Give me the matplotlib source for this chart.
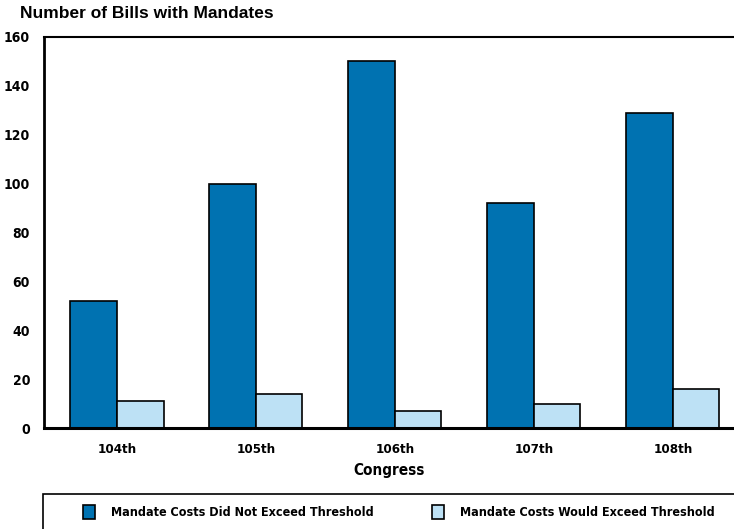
import matplotlib.pyplot as plt
import numpy as np
from matplotlib.patches import Rectangle

congresses = ['104th', '105th', '106th', '107th', '108th']
not_exceed = [52, 100, 150, 92, 129]
would_exceed = [11, 14, 7, 10, 16]

dark = '#0072b1'
light = '#bde1f5'
lab_font = dict(family='DejaVu Sans', stretch='condensed', weight='bold')

fig = plt.figure(figsize=(7.34, 5.29), dpi=100)
ax = fig.add_axes([44 / 734, 1 - 428 / 529, 1 - 44 / 734, (428 - 37) / 529])

x = np.arange(len(congresses))
w = 0.335
ax.bar(x - w / 2, not_exceed, w, color=dark, edgecolor='black', linewidth=1.2,
       label='Mandate Costs Did Not Exceed Threshold')
ax.bar(x + w / 2, would_exceed, w, color=light, edgecolor='black', linewidth=1.2,
       label='Mandate Costs Would Exceed Threshold')

ax.set_xlim(-0.525, 4.44)
ax.set_ylim(0, 160)
ax.set_yticks(range(0, 161, 20))
ax.set_xticks(x)
ax.set_xticklabels(congresses, fontsize=9.5, **lab_font)
for t in ax.get_yticklabels():
    t.set_fontsize(10)
    t.set(**lab_font)
ax.tick_params(length=0)
ax.tick_params(axis='x', pad=11)
ax.tick_params(axis='y', pad=10)
ax.set_xlabel('Congress', fontsize=11, labelpad=5, **lab_font)

ax.spines['right'].set_visible(False)
ax.spines['left'].set_linewidth(2)
ax.spines['bottom'].set_linewidth(2.2)
ax.spines['top'].set_linewidth(1.5)

fig.text(20 / 734, 1 - 14 / 529, 'Number of Bills with Mandates', fontsize=12.5,
         fontweight='bold', family='Liberation Sans', va='center')

# legend box running off the right edge
fig.patches.append(Rectangle((43 / 734, -0.05), 1.0, 1 - 494 / 529 + 0.05,
                             transform=fig.transFigure, fill=False,
                             edgecolor='black', linewidth=1.2))
leg = fig.legend(loc='center left', bbox_to_anchor=(72 / 734, 1 - 512 / 529),
                 ncol=2, frameon=False, handlelength=0.95, handleheight=1.3,
                 columnspacing=4.6, handletextpad=1.3,
                 prop=dict(size=9, **lab_font))

fig.savefig('out.png', dpi=100)
